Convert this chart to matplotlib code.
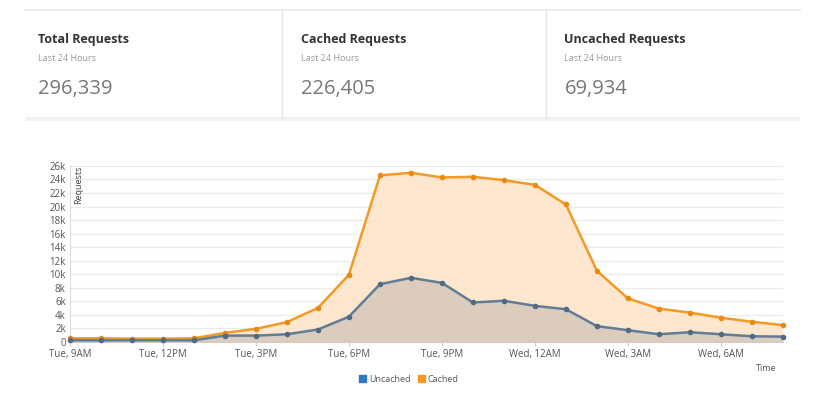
import matplotlib
matplotlib.use('Agg')
import matplotlib.pyplot as plt
from matplotlib.patches import Rectangle
from matplotlib.lines import Line2D

plt.rcParams['font.family'] = ['Open Sans', 'DejaVu Sans']

# Summary cards
card_titles = ['Total Requests', 'Cached Requests', 'Uncached Requests']
card_values = ['296,339', '226,405', '69,934']

# Hourly series, Tue 9AM -> Wed 8AM
hours = list(range(24))
cached = [0.5, 0.5, 0.45, 0.45, 0.5, 1.3, 1.9, 2.9, 5.0, 9.9, 24.6, 25.0,
          24.3, 24.4, 23.9, 23.2, 20.3, 10.5, 6.4, 4.9, 4.3, 3.55, 2.95, 2.45]
uncached = [0.2, 0.2, 0.2, 0.2, 0.2, 0.9, 0.9, 1.1, 1.8, 3.7, 8.5, 9.45,
            8.7, 5.8, 6.05, 5.3, 4.8, 2.3, 1.7, 1.1, 1.4, 1.1, 0.8, 0.75]
tick_pos = [0, 3, 6, 9, 12, 15, 18, 21]
tick_labels = ['Tue, 9AM', 'Tue, 12PM', 'Tue, 3PM', 'Tue, 6PM',
               'Tue, 9PM', 'Wed, 12AM', 'Wed, 3AM', 'Wed, 6AM']

ORANGE = '#f39a24'
BLUE_LINE = '#5f7d96'
BLUE_KEY = '#2d78bf'

fig = plt.figure(figsize=(8.18, 3.98), dpi=100)

# card panel background lines
fig.add_artist(Line2D([0.03, 0.978], [0.975, 0.975], color='#eeeeee', lw=1.5))
fig.add_artist(Rectangle((0.03, 0.695), 0.948, 0.012, color='#f2f2f2', lw=0))
for xd in [0.345, 0.668]:
    fig.add_artist(Line2D([xd, xd], [0.707, 0.975], color='#e6e6e6', lw=1))

for i, (t, v) in enumerate(zip(card_titles, card_values)):
    x0 = 0.047 + i * 0.3215
    fig.text(x0, 0.902, t, fontsize=9, fontweight='bold', color='#333333', va='center')
    fig.text(x0, 0.854, 'Last 24 Hours', fontsize=6.5, color='#999999', va='center')
    fig.text(x0, 0.777, v, fontsize=14.5, color='#777777', va='center')

ax = fig.add_axes([0.0856, 0.1415, 0.8714, 0.4415])
ax.fill_between(hours, cached, color='#fde3c6', alpha=0.85, lw=0)
ax.fill_between(hours, uncached, color='#9f9aa0', alpha=0.35, lw=0)
ax.plot(hours, cached, color=ORANGE, lw=1.8, marker='o', ms=3, mfc='#e88a10',
        mec='#e88a10', clip_on=False, zorder=4)
ax.plot(hours, uncached, color=BLUE_LINE, lw=1.8, marker='o', ms=3, mfc='#4f6b84',
        mec='#4f6b84', clip_on=False, zorder=4)

ax.set_xlim(0, 23)
ax.set_ylim(0, 26)
ax.set_yticks(range(0, 27, 2))
ax.set_yticklabels(['0'] + ['%dk' % v for v in range(2, 27, 2)])
ax.set_xticks(tick_pos)
ax.set_xticklabels(tick_labels)
ax.tick_params(axis='both', labelsize=7, colors='#555555', length=0, pad=3)
ax.tick_params(axis='x', length=3, color='#cccccc', pad=2)
ax.grid(axis='y', color='#ebebeb', lw=1)
ax.set_axisbelow(True)
for s in ['top', 'right']:
    ax.spines[s].set_visible(False)
ax.spines['left'].set_color('#dddddd')
ax.spines['bottom'].set_color('#cccccc')

ax.text(0.012, 1.0, 'Requests', transform=ax.transAxes, rotation=90, fontsize=6.5,
        color='#444444', va='top', ha='center')
fig.text(0.937, 0.073, 'Time', fontsize=6.5, color='#555555', ha='center', va='center')

handles = [Rectangle((0, 0), 1, 1, color=BLUE_KEY), Rectangle((0, 0), 1, 1, color=ORANGE)]
fig.legend(handles, ['Uncached', 'Cached'], loc='center', bbox_to_anchor=(0.5, 0.047),
           ncol=2, frameon=False, fontsize=6.5, handlelength=0.8, handleheight=0.8,
           handletextpad=0.3, columnspacing=0.8, labelcolor='#555555')

fig.savefig('out.png', dpi=100)
